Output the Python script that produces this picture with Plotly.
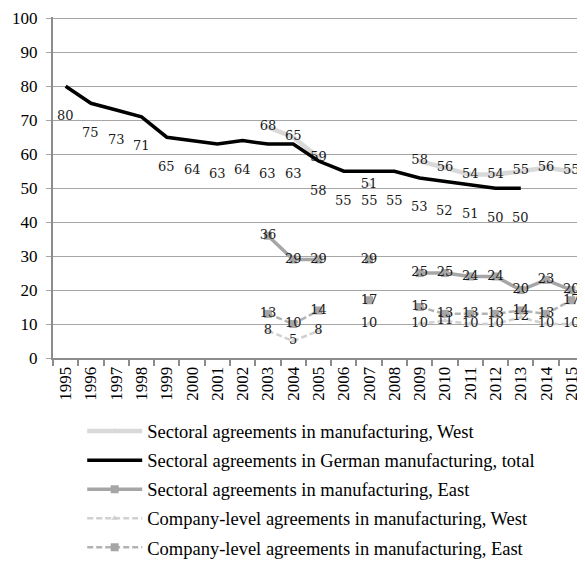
import plotly.graph_objects as go

years = [str(y) for y in range(1995, 2016)]

sect_west = [None, None, None, None, None, None, None, None, 68, 65, 59, None, 51, None, 58, 56, 54, 54, 55, 56, 55]
sect_total = [80, 75, 73, 71, 65, 64, 63, 64, 63, 63, 58, 55, 55, 55, 53, 52, 51, 50, 50, None, None]
sect_east = [None, None, None, None, None, None, None, None, 36, 29, 29, None, 29, None, 25, 25, 24, 24, 20, 23, 20]
comp_west = [None, None, None, None, None, None, None, None, 8, 5, 8, None, 10, None, 10, 11, 10, 10, 12, 10, 10]
comp_east = [None, None, None, None, None, None, None, None, 13, 10, 14, None, 17, None, 15, 13, 13, 13, 14, 13, 17]

names = [
    "Sectoral agreements in manufacturing, West",
    "Sectoral agreements in German manufacturing, total",
    "Sectoral agreements in manufacturing, East",
    "Company-level agreements in manufacturing, West",
    "Company-level agreements in manufacturing, East",
]

label_font = dict(family="DejaVu Serif", size=13, color="#1a1a1a")
serif = "Liberation Serif"

def txt(vals):
    return [("" if v is None else str(v)) for v in vals]

fig = go.Figure()

fig.add_trace(go.Scatter(
    x=years, y=sect_west, name=names[0], mode="lines+markers+text",
    line=dict(color="#d9d9d9", width=4.5),
    marker=dict(symbol="triangle-up", size=6, color="#d9d9d9"),
    text=txt(sect_west), textposition="middle center", textfont=label_font,
    connectgaps=False, legendrank=1, legendgroup="g1",
))
fig.add_trace(go.Scatter(
    x=years, y=sect_total, name=names[1], mode="lines",
    line=dict(color="#000000", width=3.5),
    connectgaps=False, legendrank=2, legendgroup="g2",
))
fig.add_trace(go.Scatter(
    x=years, y=sect_east, name=names[2], mode="lines+markers+text",
    line=dict(color="#a6a6a6", width=3.5),
    marker=dict(symbol="square", size=8, color="#a6a6a6"),
    text=txt(sect_east), textposition="middle center", textfont=label_font,
    connectgaps=False, legendrank=3, legendgroup="g3",
))
fig.add_trace(go.Scatter(
    x=years, y=comp_west, name=names[3], mode="lines+markers+text",
    line=dict(color="#d0d0d0", width=2.5, dash="6px,3px"),
    marker=dict(symbol="triangle-up", size=6, color="#d0d0d0"),
    text=txt(comp_west), textposition="middle center", textfont=label_font,
    connectgaps=False, legendrank=4, legendgroup="g4",
))
fig.add_trace(go.Scatter(
    x=years, y=comp_east, name=names[4], mode="lines+markers+text",
    line=dict(color="#b3b3b3", width=2.5, dash="6px,3px"),
    marker=dict(symbol="square", size=8, color="#a6a6a6"),
    text=txt(comp_east), textposition="middle center", textfont=label_font,
    connectgaps=False, legendrank=5, legendgroup="g5",
))

for i, v in enumerate(sect_total):
    if v is None:
        continue
    fig.add_annotation(x=i, y=v, text=str(v), showarrow=False, yshift=-29,
                       font=label_font)

fig.update_layout(
    width=577, height=562,
    margin=dict(l=45, r=1, t=7, b=212),
    paper_bgcolor="white", plot_bgcolor="white",
    font=dict(family=serif, size=17, color="#000000"),
    showlegend=True,
    legend=dict(
        orientation="v", x=0.055, xanchor="left", y=-0.16, yanchor="top",
        font=dict(family=serif, size=18.5, color="#000000"),
        tracegroupgap=2, itemwidth=55, bgcolor="rgba(0,0,0,0)",
    ),
)
fig.update_xaxes(
    type="category", tickangle=-90, showgrid=False, range=[-0.5, 20.5],
    showline=True, linecolor="#8c8c8c", linewidth=2,
    ticks="outside", ticklen=6, tickcolor="#8c8c8c", tickwidth=1.5,
    tickson="boundaries",
    tickfont=dict(family=serif, size=17, color="#000000"),
)
fig.update_yaxes(
    range=[0, 100.4], tickmode="array", tickvals=list(range(0, 101, 10)),
    showgrid=True, gridcolor="#a6a6a6", gridwidth=1.3,
    showline=True, linecolor="#8c8c8c", linewidth=2,
    ticks="outside", ticklen=5, tickcolor="#a6a6a6",
    tickfont=dict(family=serif, size=17, color="#000000"),
    ticklabeloverflow="allow", ticklabelstandoff=5,
    zeroline=False,
)

fig.write_html("out.html")
